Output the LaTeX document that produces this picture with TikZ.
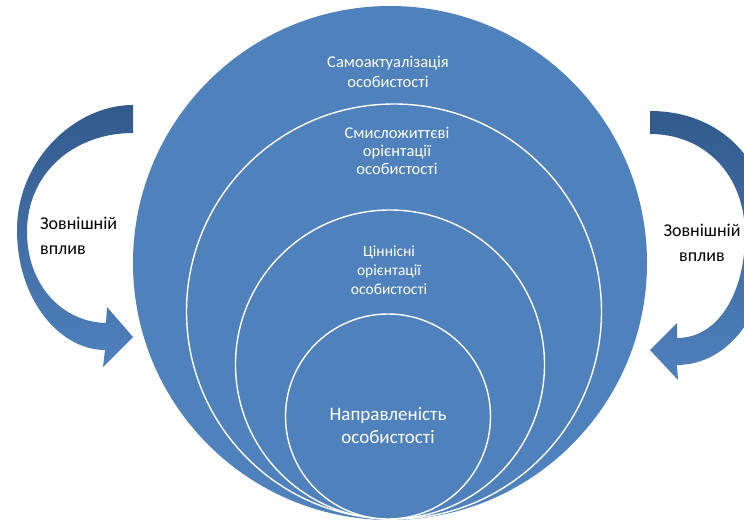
\documentclass[tikz,border=0pt]{standalone}
\usepackage{fontspec}
\setmainfont{Carlito}
\usetikzlibrary{positioning}
\definecolor{ringblue}{RGB}{79,129,189}
\definecolor{arrowdark}{RGB}{50,90,140}
\tikzset{
	ring/.style={circle, draw=white, line width=1.4pt, fill=ringblue, inner sep=0pt, outer sep=0pt},
	inlabel/.style={text=white, align=center, inner sep=0pt},
	outlabel/.style={text=black, inner sep=0pt, font=\fontsize{18}{25}\selectfont},
	bentarrow/.style={top color=arrowdark, bottom color=ringblue, draw=none},
}
\begin{document}
\begin{tikzpicture}[x=1pt, y=-1pt]
	\useasboundingbox (0,0) rectangle (744,526);
	% curved arrows
	\shade[bentarrow] (133,105) .. controls (75,105) and (17,160) .. (17,230)
		.. controls (17,300) and (60,350) .. (105,350)
		-- (103,367) -- (133,337) -- (107,307) -- (106,323)
		.. controls (62,322) and (27,285) .. (27,232)
		.. controls (27,172) and (75,133) .. (133,133) -- cycle;
	\shade[bentarrow] (650,111) .. controls (720,111) and (770,160) .. (770,235)
		.. controls (770,310) and (730,365) .. (677,365)
		-- (678,380) -- (650,350) -- (677,323) -- (677,338)
		.. controls (720,338) and (745,290) .. (745,235)
		.. controls (745,175) and (705,134) .. (650,134) -- cycle;
	
	\node[ring, draw=none, minimum size=514pt] (outer) at (390,263) {};
	\node[ring, minimum size=415pt] (meaning) at (394,311.5) {};
	\node[ring, minimum size=309pt] (values) at (390,364.5) {};
	\node[ring, minimum size=205pt] (focus) at (388,416.5) {};
	
	\node[inlabel, font=\fontsize{16.5}{20}\selectfont] (tselfact) at (388,72) {Самоактуалізація\\особистості};
	\node[inlabel, font=\fontsize{16.5}{18}\selectfont] (tmeaning) at (397,151) {Смисложиттєві\\орієнтації\\особистості};
	\node[inlabel, font=\fontsize{15.5}{19}\selectfont] (tvalues) at (389,270) {Ціннісні\\орієнтації\\особистості};
	\node[inlabel, font=\fontsize{19}{23}\selectfont] (tfocus) at (388,426) {Направленість\\особистості};
	
	\node[outlabel, align=left, anchor=west] (extleft) at (40,236) {Зовнішній\\вплив};
	\node[outlabel, align=center] (extright) at (702,243) {Зовнішній\\вплив};
\end{tikzpicture}
\end{document}
